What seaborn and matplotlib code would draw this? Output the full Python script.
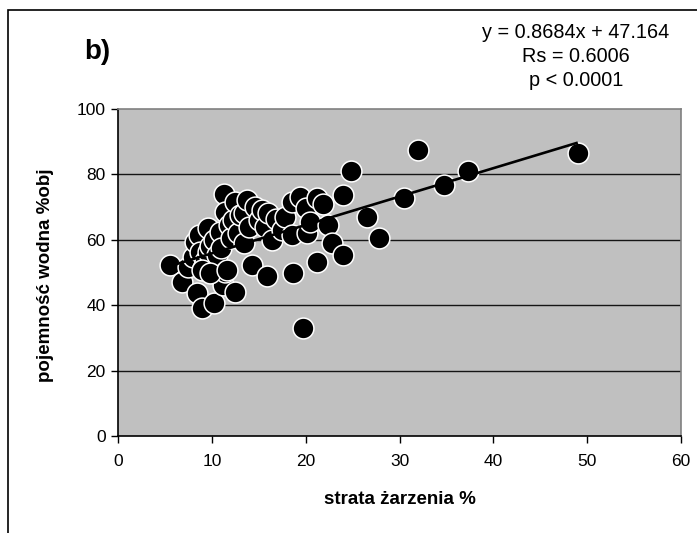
import matplotlib
matplotlib.use("Agg")
import matplotlib.pyplot as plt
from matplotlib.patches import Rectangle
import seaborn as sns
import pandas as pd
import numpy as np

# loss on ignition (%) and water capacity (% vol)
strata = [5.5, 6.8, 7.5, 8.0, 8.2, 8.4, 8.6, 8.75, 8.9, 9.1, 9.3, 9.6, 9.6, 9.8,
          10.2, 10.2, 10.5, 10.9, 11.0, 11.2, 11.3, 11.4, 11.4, 11.8, 12.0, 12.3,
          12.5, 12.5, 12.8, 13.0, 13.4, 13.4, 13.7, 14.0, 14.3, 14.6, 15.0, 15.3,
          15.9, 15.7, 16.0, 16.4, 16.8, 17.5, 17.8, 18.5, 18.5, 18.6, 19.4, 19.7,
          20.0, 20.1, 20.5, 21.2, 21.2, 21.9, 22.4, 22.8, 24.0, 24.0, 24.8, 26.5,
          27.8, 30.5, 32.0, 34.7, 37.3, 49.0, 8.9, 9.8, 11.6]
pojemnosc = [52.3, 47.0, 51.8, 54.8, 59.4, 43.6, 61.5, 56.4, 39.0, 51.3, 53.5, 63.5,
             56.4, 58.0, 40.6, 60.0, 55.5, 62.5, 57.5, 46.2, 73.9, 68.6, 50.2, 64.5,
             60.5, 66.0, 71.7, 44.1, 62.0, 67.5, 68.2, 59.0, 72.2, 64.0, 52.3, 70.0,
             66.0, 69.1, 48.9, 64.0, 68.1, 60.0, 66.5, 63.0, 67.1, 71.7, 61.5, 49.8,
             73.2, 33.0, 69.6, 62.0, 65.5, 72.7, 53.3, 71.1, 64.5, 58.9, 55.4, 73.7,
             81.1, 67.0, 60.5, 72.7, 87.5, 76.8, 81.0, 86.5, 50.8, 49.8, 50.8]

# linear trend reported in the annotation
slope = 0.8684
intercept = 47.164
stats_lines = ["y = 0.8684x + 47.164", "Rs = 0.6006", "p < 0.0001"]

x_ticks = [0, 10, 20, 30, 40, 50, 60]
y_ticks = [0, 20, 40, 60, 80, 100]

df = pd.DataFrame({"strata": strata, "pojemnosc": pojemnosc})

sns.set_theme(style="white")
plt.rcParams["font.family"] = ["Liberation Sans", "DejaVu Sans"]
plt.rcParams["text.color"] = "black"
plt.rcParams["axes.labelcolor"] = "black"
plt.rcParams["xtick.color"] = "black"
plt.rcParams["ytick.color"] = "black"

fig = plt.figure(figsize=(6.97, 5.33), dpi=100)
ax = fig.add_axes([118 / 697, 1 - 436 / 533, (681 - 118) / 697, (436 - 109) / 533])
ax.set_facecolor("#C0C0C0")

for yv in y_ticks[1:-1]:
    ax.axhline(yv, color="#151515", lw=1.0, zorder=1)

sns.scatterplot(data=df, x="strata", y="pojemnosc", ax=ax, s=225,
                color="black", edgecolor="white", linewidth=1.1, zorder=3,
                legend=False)

xl = np.array([min(strata), max(strata)])
ax.plot(xl, slope * xl + intercept, color="black", lw=1.9, zorder=4,
        solid_capstyle="butt")

ax.set_xlim(0, 60)
ax.set_ylim(0, 100)
ax.set_xticks(x_ticks)
ax.set_yticks(y_ticks)
ax.tick_params(axis="both", direction="out", length=5, width=1, color="black",
               labelcolor="black", labelsize=12.5, bottom=True, left=True)
ax.tick_params(axis="x", pad=8)
ax.tick_params(axis="y", pad=4)

for side in ["top", "right"]:
    ax.spines[side].set_color("#808080")
    ax.spines[side].set_linewidth(1.2)
for side in ["left", "bottom"]:
    ax.spines[side].set_color("black")
    ax.spines[side].set_linewidth(1.2)

ax.set_xlabel("strata żarzenia %", fontsize=13.5, fontweight="bold", va="center",
              color="black")
ax.set_ylabel("pojemność wodna %obj", fontsize=13.5, fontweight="bold", va="center",
              color="black")
ax.xaxis.set_label_coords((400 - 118) / 563, (436 - 500) / 327)
ax.yaxis.set_label_coords((45 - 118) / 563, (436 - 275) / 327)

fig.text(97 / 697, 1 - 52 / 533, "b)", fontsize=20, fontweight="bold",
         ha="center", va="center", color="black")
for i, line in enumerate(stats_lines):
    fig.text(576 / 697, 1 - (32 + i * 24) / 533, line, fontsize=14.3,
             ha="center", va="center", color="black")

# outer frame of the figure
fig.patches.append(Rectangle((8 / 697, -0.1), 1.2, 1 - 10 / 533 + 0.1,
                             transform=fig.transFigure, fill=False,
                             edgecolor="black", lw=1.2))

fig.savefig("out.png", dpi=100)
